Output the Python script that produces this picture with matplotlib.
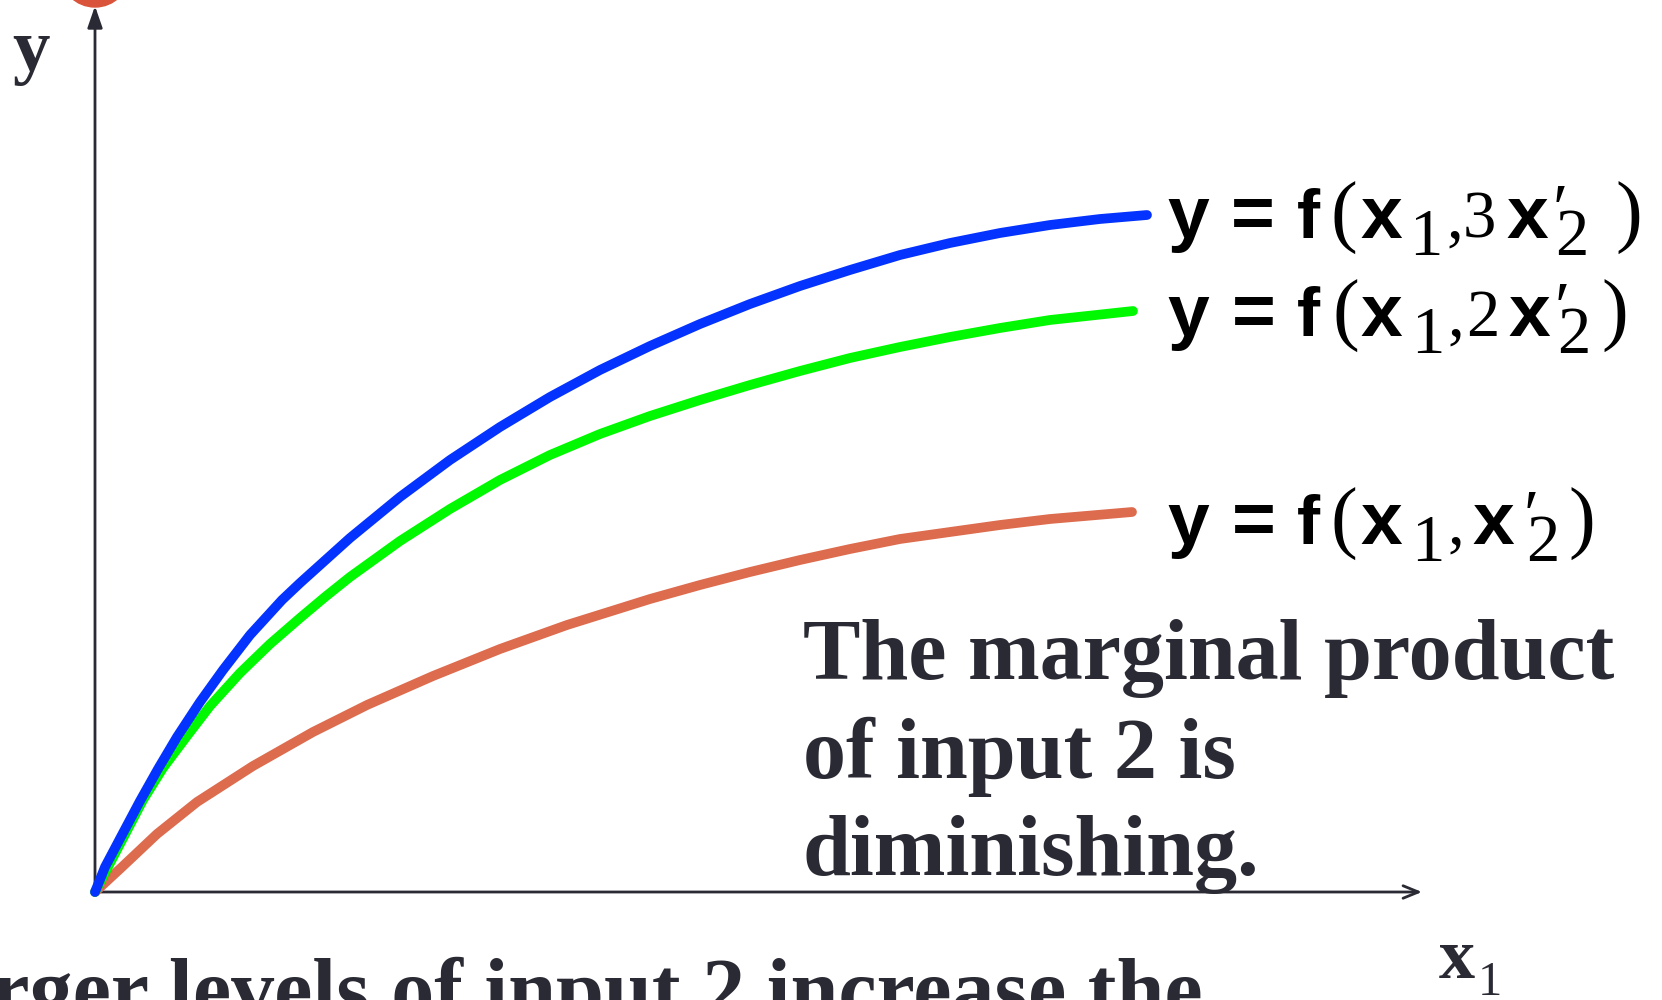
import matplotlib
matplotlib.use("Agg")
import matplotlib.pyplot as plt
from matplotlib.patches import Circle

x_high = [0, 0.10, 0.28, 0.45, 0.63, 0.82, 1.05, 1.28, 1.55, 1.87, 2.05, 2.55, 3.05, 3.55,
          4.05, 4.55, 5.05, 5.55, 6.05, 6.55, 7.05, 7.55, 8.05, 8.55, 9.05, 9.55, 10.05, 10.52]
y_high = [0, 0.25, 0.59, 0.91, 1.23, 1.55, 1.90, 2.22, 2.57, 2.92, 3.09, 3.54, 3.95, 4.32,
          4.65, 4.95, 5.22, 5.46, 5.68, 5.88, 6.06, 6.22, 6.37, 6.49, 6.59, 6.67, 6.73, 6.77]

x_mid = [0, 0.13, 0.48, 0.68, 0.92, 1.15, 1.45, 1.75, 2.05, 2.30, 2.55, 3.05, 3.55, 4.05,
         4.55, 5.05, 5.55, 6.05, 6.55, 7.05, 7.55, 8.05, 8.55, 9.05, 9.55, 10.38]
y_mid = [0, 0.25, 0.92, 1.24, 1.56, 1.86, 2.19, 2.48, 2.74, 2.95, 3.15, 3.51, 3.83, 4.12,
         4.37, 4.58, 4.76, 4.92, 5.07, 5.21, 5.34, 5.45, 5.55, 5.64, 5.72, 5.81]

x_low = [0, 0.27, 0.62, 1.02, 1.58, 2.18, 2.72, 3.38, 4.05, 4.72, 5.55, 6.05, 6.55, 7.05,
         7.55, 8.05, 8.55, 9.05, 9.55, 10.37]
y_low = [0, 0.25, 0.58, 0.90, 1.26, 1.60, 1.87, 2.16, 2.43, 2.67, 2.93, 3.07, 3.20, 3.32,
         3.43, 3.53, 3.60, 3.67, 3.73, 3.80]

curve_colors = ['#0433FF', '#00F900', '#DD6B4D']

# curve labels: (piece, style, x offset px, baseline shift px)
label_high = [('y', 'sans', 0, 0), ('=', 'sans', 64, 0), ('f', 'sans_f', 130, 0),
              ('(', 'paren', 163, 0), ('x', 'sans', 193, 0), ('1', 'digit', 242, 17),
              (',', 'digit', 279, 0), ('3', 'digit', 296, 0), ('x', 'sans', 339, 0),
              ('\u2032', 'prime', 386, -6), ('2', 'digit', 388, 17), (')', 'paren', 448, 0)]
label_mid = [('y', 'sans', 0, 0), ('=', 'sans', 65, 0), ('f', 'sans_f', 130, 0),
             ('(', 'paren', 165, 0), ('x', 'sans', 193, 0), ('1', 'digit', 244, 17),
             (',', 'digit', 280, 0), ('2', 'digit', 299, 0), ('x', 'sans', 341, 0),
             ('\u2032', 'prime', 388, -6), ('2', 'digit', 390, 17), (')', 'paren', 434, 0)]
label_low = [('y', 'sans', 0, 0), ('=', 'sans', 65, 0), ('f', 'sans_f', 130, 0),
             ('(', 'paren', 163, 0), ('x', 'sans', 193, 0), ('1', 'digit', 244, 17),
             (',', 'digit', 280, 0), ('x', 'sans', 305, 0),
             ('\u2032', 'prime', 357, -6), ('2', 'digit', 359, 17), (')', 'paren', 401, 0)]

note = "The marginal product\nof input 2 is\ndiminishing."
bottom_note = "Larger levels of input 2 increase the"

dark = '#2A2A34'
W, H = 1662, 1000

styles = {
    'sans': dict(family='Liberation Sans', fontweight='bold', fontsize=54),
    'sans_f': dict(family='Liberation Sans', fontweight='bold', fontsize=50),
    'paren': dict(family='Liberation Serif', fontsize=58),
    'digit': dict(family='Liberation Serif', fontsize=48),
    'prime': dict(family=['Liberation Serif', 'DejaVu Serif'], fontsize=50),
}


def rich_text(x0, y0, pieces):
    # place each piece at its offset from (x0, y0), pixels from top-left
    for txt, st, dx, dy in pieces:
        fig.text((x0 + dx) / W, 1 - (y0 + dy) / H, txt, color='black',
                 va='baseline', ha='left', **styles[st])


fig = plt.figure(figsize=(W / 100, H / 100), dpi=100)
ax = fig.add_axes([0, 0, 1, 1])
ax.set_xlim(-0.95, 15.67)
ax.set_ylim(-1.08, 8.92)
ax.axis('off')

# decorative dot at the top of the y axis
ax.add_patch(Circle((0, 9.2), 0.35, color='#D9543A', clip_on=False, zorder=1))

# axes with arrow heads
ax.annotate('', xy=(0, 8.86), xytext=(0, 0),
            arrowprops=dict(arrowstyle='-|>,head_length=1.3,head_width=0.45',
                            color=dark, lw=2.0, shrinkA=0, shrinkB=0), zorder=2)
ax.annotate('', xy=(13.27, 0), xytext=(0, 0),
            arrowprops=dict(arrowstyle='->,head_length=1.1,head_width=0.45',
                            color=dark, lw=2.0, shrinkA=0, shrinkB=0), zorder=2)

for xs, ys, c in [(x_low, y_low, curve_colors[2]),
                  (x_mid, y_mid, curve_colors[1]),
                  (x_high, y_high, curve_colors[0])]:
    ax.plot(xs, ys, color=c, lw=7.0, solid_capstyle='round',
            solid_joinstyle='round', zorder=3)

rich_text(1167, 238, label_high)
rich_text(1167, 336, label_mid)
rich_text(1167, 544, label_low)

# axis names
fig.text(12 / W, 1 - 70 / H, 'y', family='Liberation Serif', fontweight='bold',
         fontsize=54, color=dark, va='baseline')
fig.text(1439 / W, 1 - 978 / H, 'x', family='Liberation Serif', fontweight='bold',
         fontsize=52, color=dark, va='baseline')
fig.text(1478 / W, 1 - 995 / H, '1', family='Liberation Serif',
         fontsize=35, color=dark, va='baseline')

fig.text(803 / W, 1 - 875 / H, note, family='Liberation Serif', fontweight='bold',
         fontsize=62, color=dark, va='baseline', ha='left', linespacing=1.3)
fig.text(1203 / W, 1 - 1018 / H, bottom_note, family='Liberation Serif', fontweight='bold',
         fontsize=62, color=dark, va='baseline', ha='right')

fig.savefig('out.png', dpi=100)
